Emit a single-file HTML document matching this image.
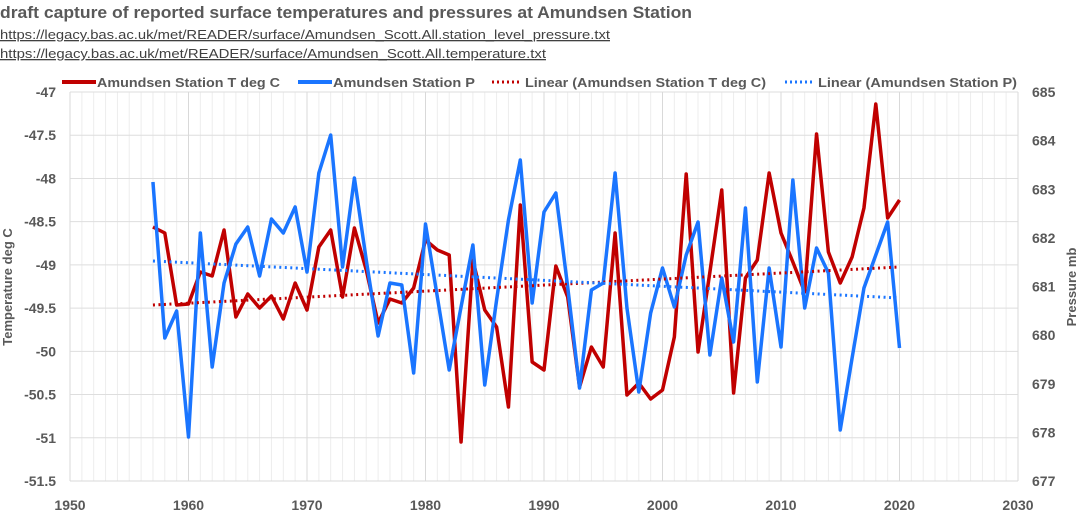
<!DOCTYPE html>
<html><head><meta charset="utf-8"><style>
body{margin:0;background:#fff;width:1080px;height:520px;overflow:hidden;font-family:"Liberation Sans",sans-serif}
</style></head><body>
<svg id="s" width="1080" height="520" xmlns="http://www.w3.org/2000/svg" font-family="Liberation Sans, sans-serif">
<text x="0" y="18" font-size="17" font-weight="bold" fill="#595959" textLength="692" lengthAdjust="spacingAndGlyphs">draft capture of reported surface temperatures and pressures at Amundsen Station</text>
<text x="0" y="39" font-size="13" fill="#404040" text-decoration="underline" textLength="610" lengthAdjust="spacingAndGlyphs">https://legacy.bas.ac.uk/met/READER/surface/Amundsen_Scott.All.station_level_pressure.txt</text>
<text x="0" y="58" font-size="13" fill="#404040" text-decoration="underline" textLength="546" lengthAdjust="spacingAndGlyphs">https://legacy.bas.ac.uk/met/READER/surface/Amundsen_Scott.All.temperature.txt</text>
<g id="grid"></g>
<g font-size="13" font-weight="bold" fill="#595959">
<line x1="62" y1="82" x2="96" y2="82" stroke="#c00000" stroke-width="4"/>
<text x="97" y="87" textLength="183" lengthAdjust="spacingAndGlyphs">Amundsen Station T deg C</text>
<line x1="298" y1="82" x2="332" y2="82" stroke="#1a75ff" stroke-width="4"/>
<text x="333" y="87" textLength="142" lengthAdjust="spacingAndGlyphs">Amundsen Station P</text>
<line x1="492" y1="82" x2="522" y2="82" stroke="#c00000" stroke-width="3" stroke-dasharray="2,3"/>
<text x="525" y="87" textLength="241" lengthAdjust="spacingAndGlyphs">Linear (Amundsen Station T deg C)</text>
<line x1="785" y1="82" x2="815" y2="82" stroke="#1a75ff" stroke-width="3" stroke-dasharray="2,3"/>
<text x="818" y="87" textLength="199" lengthAdjust="spacingAndGlyphs">Linear (Amundsen Station P)</text>
<text transform="translate(12,287) rotate(-90)" text-anchor="middle" font-size="13">Temperature deg C</text>
<text transform="translate(1076,287) rotate(-90)" text-anchor="middle" font-size="13">Pressure mb</text>
</g>
<g id="data"></g>
</svg>
<script>
var L=70,R=1018,T0=92,B=481;
function X(y){return L+(y-1950)*(R-L)/80}
function YT(v){return T0+(-47-v)*(B-T0)/4.5}
function YP(v){return T0+(685-v)*(B-T0)/8}
var g='';
for(var y=1951;y<=2030;y++){if(y%10)g+='<line x1="'+X(y)+'" y1="'+T0+'" x2="'+X(y)+'" y2="'+B+'" stroke="#ededed" stroke-width="1"/>';}
for(var i=0;i<9;i++){var yy=YT(-47-i*0.5);g+='<line x1="'+L+'" y1="'+yy+'" x2="'+R+'" y2="'+yy+'" stroke="#dedede" stroke-width="1"/>';}
for(var y=1950;y<=2030;y+=10){g+='<line x1="'+X(y)+'" y1="'+T0+'" x2="'+X(y)+'" y2="'+B+'" stroke="#d9d9d9" stroke-width="1"/>';}
g+='<line x1="'+L+'" y1="'+B+'" x2="'+R+'" y2="'+B+'" stroke="#d9d9d9"/>';
for(var i=0;i<=9;i++){var v=-47-i*0.5,yy=YT(v);g+='<text x="56" y="'+(yy+5)+'" text-anchor="end" font-size="14" font-weight="bold" fill="#595959">'+v+'</text>';}
for(var p=677;p<=685;p++){g+='<text x="1032" y="'+(YP(p)+5)+'" font-size="14" font-weight="bold" fill="#595959">'+p+'</text>';}
for(var y=1950;y<=2030;y+=10){g+='<text x="'+X(y)+'" y="510" text-anchor="middle" font-size="14" font-weight="bold" fill="#595959">'+y+'</text>';}
document.getElementById('grid').innerHTML=g;
var ty=[227,233,305,304,272,276,230,317,294,308,296,319,283,310,247,230,297,228,270,323,299,303,288,240,
250,255,442,260,310,327,407,205,362,370,266,297,387,347,367,233,395,383,399,390,337,174,352,272,190,393,278,260,173,233,262,292,134,252,283,257,208,104,218,200];
var py=[182,338,311,437,233,367,283,244,227,276,219,233,207,272,173,135,267,178,260,336,283,285,373,224,
297,370,307,245,385,300,220,160,303,212,193,287,388,290,283,173,308,392,313,268,307,255,222,355,278,342,208,382,268,347,180,308,248,273,430,358,288,255,222,348];
function pts(a){return a.map(function(v,i){return X(1957+i)+','+v}).join(' ')}
var d='';
d+='<polyline points="'+pts(ty)+'" fill="none" stroke="#c00000" stroke-width="3.5" stroke-linejoin="round"/>';
d+='<polyline points="'+pts(py)+'" fill="none" stroke="#1a75ff" stroke-width="3.5" stroke-linejoin="round"/>';
d+='<line x1="'+X(1957)+'" y1="305" x2="'+X(2020)+'" y2="267" stroke="#c00000" stroke-width="3" stroke-dasharray="2,3.5"/>';
d+='<line x1="'+X(1957)+'" y1="261" x2="'+X(2020)+'" y2="298" stroke="#1a75ff" stroke-width="3" stroke-dasharray="2,3.5"/>';
document.getElementById('data').innerHTML=d;
</script>
</body></html>
